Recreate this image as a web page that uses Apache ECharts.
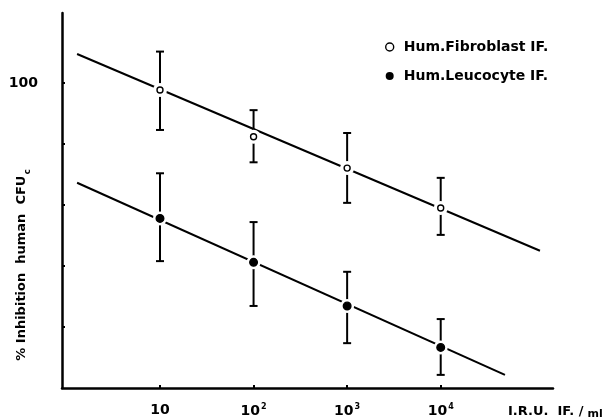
<!DOCTYPE html>
<html>
<head>
<meta charset="utf-8">
<script src="https://cdn.jsdelivr.net/npm/echarts@6/dist/echarts.min.js"></script>
<style>
  html, body { margin: 0; padding: 0; background: #fff; }
  #chart { width: 616px; height: 419px; }
</style>
</head>
<body>
<div id="chart"></div>
<script>
// doses (I.R.U. IF./ml)
var doses = [10, 100, 1000, 10000];
// Hum. fibroblast IF.
var fibroMean = [97.7, 82.4, 72.1, 59.0];
var fibroLow = [84.6, 74.0, 60.7, 50.2];
var fibroHigh = [110.3, 91.1, 83.6, 68.9];
// Hum. leucocyte IF.
var leucoMean = [55.6, 41.2, 26.9, 13.3];
var leucoLow = [41.6, 26.9, 14.7, 4.3];
var leucoHigh = [70.4, 54.4, 38.1, 22.6];
// fitted lines (end points)
var fibroFitX = [1.30, 115000];
var fibroFitY = [109.5, 45.0];
var leucoFitX = [1.30, 48600];
var leucoFitY = [67.3, 4.3];
// ticks
var xTicks = [10, 100, 1000, 10000];
var yTicks = [20, 40, 60, 80, 100];
var yLabels = [100];

var FONT = 'DejaVu Sans';

function pairs(xs, ys) {
  return xs.map(function (x, i) { return [x, ys[i]]; });
}
function rows(mean, low, high) {
  return doses.map(function (d, i) { return [d, mean[i], low[i], high[i]]; });
}

// error bar + marker with a white halo that breaks the line
function errRender(filled) {
  return function (params, api) {
    var p = api.coord([api.value(0), api.value(1)]);
    var lo = api.coord([api.value(0), api.value(2)]);
    var hi = api.coord([api.value(0), api.value(3)]);
    var s = { stroke: '#000', lineWidth: 2 };
    return {
      type: 'group',
      children: [
        { type: 'line', shape: { x1: p[0], y1: hi[1], x2: p[0], y2: lo[1] }, style: s },
        { type: 'line', shape: { x1: p[0] - 4, y1: hi[1], x2: p[0] + 4, y2: hi[1] }, style: s },
        { type: 'line', shape: { x1: p[0] - 4, y1: lo[1], x2: p[0] + 4, y2: lo[1] }, style: s },
        { type: 'circle', shape: { cx: p[0], cy: p[1], r: 7 }, style: { fill: '#fff' } },
        {
          type: 'circle',
          shape: { cx: p[0], cy: p[1], r: filled ? 3.8 : 3 },
          style: { fill: filled ? '#000' : '#fff', stroke: '#000', lineWidth: 1.4 }
        }
      ]
    };
  };
}

var chart = echarts.init(document.getElementById('chart'));

var option = {
  backgroundColor: '#fff',
  animation: false,
  grid: { left: 62, right: 63, top: 13, bottom: 31, containLabel: false },
  legend: {
    orient: 'vertical',
    left: 380,
    top: 34,
    itemWidth: 8,
    itemHeight: 8,
    itemGap: 13,
    selectedMode: false,
    textStyle: { fontFamily: FONT, fontWeight: 'bold', fontSize: 14, lineHeight: 16, color: '#000', padding: [0, 0, 0, 5] },
    data: [
      { name: 'Hum.Fibroblast IF.', icon: 'circle', itemStyle: { color: '#fff', borderColor: '#000', borderWidth: 1.4 } },
      { name: 'Hum.Leucocyte IF.', icon: 'circle', itemStyle: { color: '#000', borderWidth: 0 } }
    ]
  },
  xAxis: {
    type: 'log',
    logBase: 10,
    min: 0.897,
    max: 158500,
    axisLine: { lineStyle: { color: '#000', width: 2.5 } },
    axisTick: { inside: true, length: 3, customValues: xTicks, lineStyle: { color: '#000', width: 2 } },
    splitLine: { show: false },
    minorTick: { show: false },
    axisLabel: {
      customValues: xTicks,
      margin: 15,
      color: '#000',
      fontFamily: FONT,
      fontWeight: 'bold',
      fontSize: 14,
      formatter: function (v) {
        var e = Math.round(Math.log10(v));
        return e === 1 ? '10' : '10{sup|' + e + '}';
      },
      rich: {
        sup: { fontFamily: FONT, fontWeight: 'bold', fontSize: 8, color: '#000', verticalAlign: 'top', padding: [0, 0, 8, 1] }
      }
    }
  },
  yAxis: {
    type: 'value',
    min: 0,
    max: 122.95,
    axisLine: { show: true, lineStyle: { color: '#000', width: 2.5 } },
    axisTick: { show: true, inside: true, length: 3, customValues: yTicks, lineStyle: { color: '#000', width: 2 } },
    splitLine: { show: false },
    axisLabel: {
      customValues: yLabels,
      margin: 24,
      color: '#000',
      fontFamily: FONT,
      fontWeight: 'bold',
      fontSize: 14
    }
  },
  graphic: [
    {
      type: 'text',
      x: 24,
      y: 265,
      rotation: Math.PI / 2,
      style: {
        text: '{a|% Inhibition  human  CFU}{sub|c}',
        fill: '#000',
        font: 'bold 13px ' + FONT,
        align: 'center',
        verticalAlign: 'middle',
        rich: {
          a: { fontFamily: FONT, fontWeight: 'bold', fontSize: 13, verticalAlign: 'bottom', padding: [0, 0, 4, 0], fill: '#000' },
          sub: { fontFamily: FONT, fontWeight: 'bold', fontSize: 9, verticalAlign: 'bottom', padding: [0, 0, 0, 1], fill: '#000' }
        }
      }
    },
    {
      type: 'text',
      x: 508,
      y: 403,
      style: {
        text: 'I.R.U.  IF. /{m|ml}',
        fill: '#000',
        font: 'bold 13px ' + FONT,
        align: 'left',
        verticalAlign: 'top',
        rich: {
          m: { fontFamily: FONT, fontWeight: 'bold', fontSize: 11, padding: [6, 0, 0, 4], fill: '#000' }
        }
      }
    }
  ],
  series: [
    {
      name: 'fibroFit',
      type: 'line',
      data: pairs(fibroFitX, fibroFitY),
      showSymbol: false,
      silent: true,
      lineStyle: { color: '#000', width: 2 },
      z: 1
    },
    {
      name: 'leucoFit',
      type: 'line',
      data: pairs(leucoFitX, leucoFitY),
      showSymbol: false,
      silent: true,
      lineStyle: { color: '#000', width: 2 },
      z: 1
    },
    {
      name: 'Hum.Fibroblast IF.',
      type: 'custom',
      renderItem: errRender(false),
      data: rows(fibroMean, fibroLow, fibroHigh),
      encode: { x: 0, y: 1 },
      clip: false,
      z: 3
    },
    {
      name: 'Hum.Leucocyte IF.',
      type: 'custom',
      renderItem: errRender(true),
      data: rows(leucoMean, leucoLow, leucoHigh),
      encode: { x: 0, y: 1 },
      clip: false,
      z: 3
    }
  ]
};

chart.setOption(option);
</script>
</body>
</html>
